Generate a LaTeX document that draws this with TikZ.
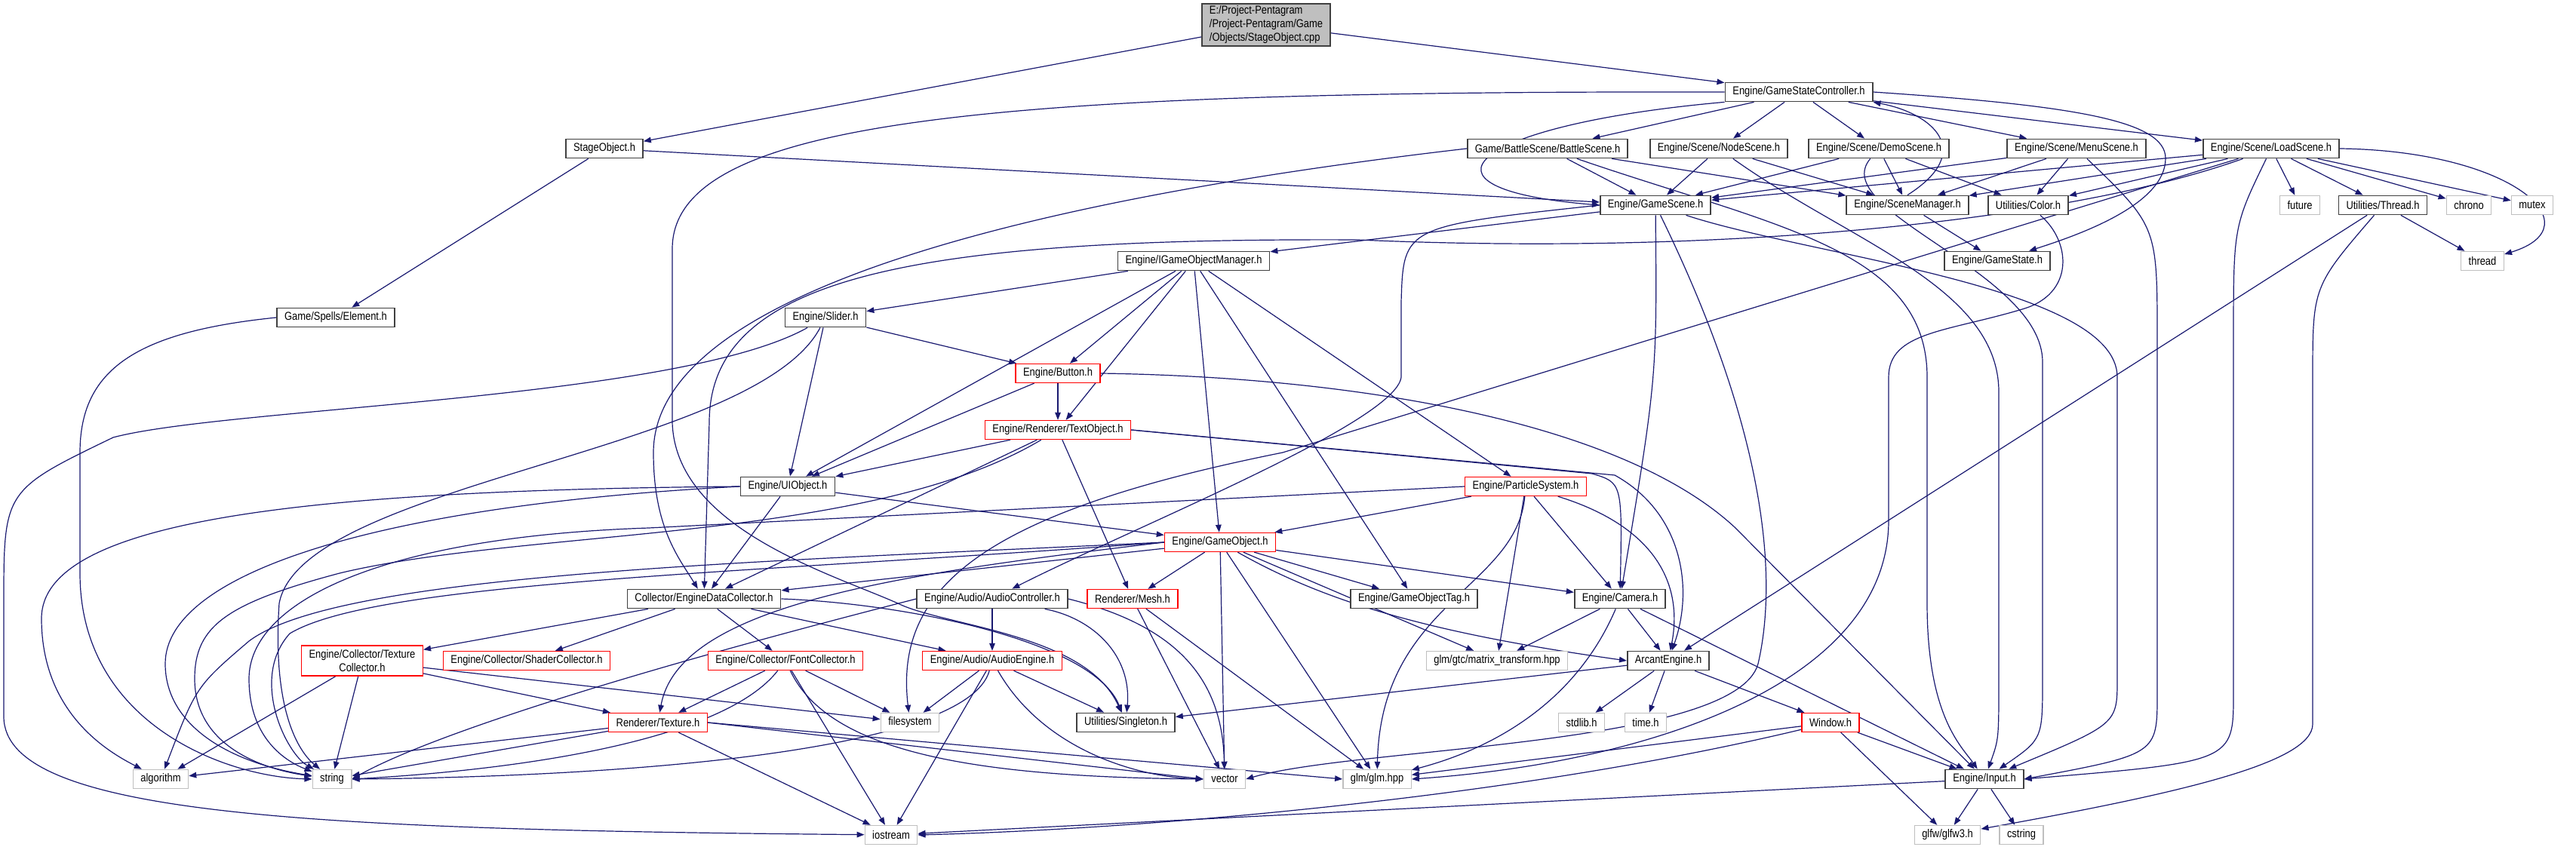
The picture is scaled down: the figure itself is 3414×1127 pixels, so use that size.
\documentclass[tikz,border=0pt]{standalone}
\usepackage{fontspec}
\usepackage{tikz}
\usetikzlibrary{arrows.meta,positioning,backgrounds}
\usepackage{xcolor}
\newfontfamily\doxfont{Liberation Sans}[FakeStretch=0.85]
\definecolor{edgeblue}{HTML}{191970}
\definecolor{hdrgray}{HTML}{404040}
\definecolor{sysgray}{HTML}{BFBFBF}

\begin{document}
\begin{tikzpicture}[
    x=0.5pt, y=-0.5pt,
    >={Triangle[length=5pt,width=3.8pt]},
    hdr/.style={rectangle, draw=hdrgray, line width=0.9pt, fill=white,
                minimum height=12.5pt, inner xsep=5pt, inner ysep=0pt,
                font=\doxfont\fontsize{7.6}{9}\selectfont},
    redhdr/.style={hdr, draw=red, line width=0.7pt},
    syshdr/.style={hdr, draw=sysgray, line width=0.7pt},
    rootbox/.style={hdr, fill=sysgray, align=left, minimum height=28pt},
    arr/.style={->, draw=edgeblue, line width=0.6pt}
  ]
  \useasboundingbox (0,0) rectangle (3414,1127);

  \node[rootbox] (root) at (1678,33)
    {E:/Project-Pentagram\\/Project-Pentagram/Game\\/Objects/StageObject.cpp};
  \node[hdr] (stage) at (801,197) {StageObject.h};
  \node[hdr] (elem) at (445,421) {Game/Spells/Element.h};
  \node[hdr] (gsc) at (2384,122) {Engine/GameStateController.h};
  \node[hdr] (battle) at (2051,197) {Game/BattleScene/BattleScene.h};
  \node[hdr] (nodesc) at (2278,197) {Engine/Scene/NodeScene.h};
  \node[hdr] (demosc) at (2490,197) {Engine/Scene/DemoScene.h};
  \node[hdr] (menusc) at (2752,197) {Engine/Scene/MenuScene.h};
  \node[hdr] (loadsc) at (3010,197) {Engine/Scene/LoadScene.h};
  \node[hdr] (gamesc) at (2194,272) {Engine/GameScene.h};
  \node[hdr] (scmgr) at (2528,272) {Engine/SceneManager.h};
  \node[hdr] (color) at (2688,272) {Utilities/Color.h};
  \node[syshdr] (future) at (3048,272) {future};
  \node[hdr] (threadh) at (3158,272) {Utilities/Thread.h};
  \node[syshdr] (chrono) at (3272,272) {chrono};
  \node[syshdr] (mutex) at (3356,272) {mutex};
  \node[hdr] (gstate) at (2647,346) {Engine/GameState.h};
  \node[syshdr] (thread) at (3290,346) {thread};
  \node[hdr] (igom) at (1582,346) {Engine/IGameObjectManager.h};
  \node[hdr] (slider) at (1094,421) {Engine/Slider.h};
  \node[redhdr] (button) at (1402,495) {Engine/Button.h};
  \node[redhdr] (textobj) at (1402,570) {Engine/Renderer/TextObject.h};
  \node[hdr] (uiobj) at (1044,645) {Engine/UIObject.h};
  \node[redhdr] (psys) at (2022,645) {Engine/ParticleSystem.h};
  \node[redhdr] (gobj) at (1617,719) {Engine/GameObject.h};
  \node[hdr] (edc) at (933,794) {Collector/EngineDataCollector.h};
  \node[hdr] (actl) at (1315,794) {Engine/Audio/AudioController.h};
  \node[redhdr] (mesh) at (1501,794) {Renderer/Mesh.h};
  \node[hdr] (gotag) at (1874,794) {Engine/GameObjectTag.h};
  \node[hdr] (camera) at (2147,794) {Engine/Camera.h};
  \node[redhdr, align=center, minimum height=20pt] (texcoll) at (480,876)
    {Engine/Collector/Texture\\Collector.h};
  \node[redhdr] (shadcoll) at (698,876) {Engine/Collector/ShaderCollector.h};
  \node[redhdr] (fontcoll) at (1041,876) {Engine/Collector/FontCollector.h};
  \node[redhdr] (aeng) at (1315,876) {Engine/Audio/AudioEngine.h};
  \node[syshdr] (mtx) at (1984,876) {glm/gtc/matrix\_transform.hpp};
  \node[hdr] (arcant) at (2211,876) {ArcantEngine.h};
  \node[redhdr] (texture) at (872,958) {Renderer/Texture.h};
  \node[syshdr] (fsys) at (1206,958) {filesystem};
  \node[hdr] (single) at (1492,958) {Utilities/Singleton.h};
  \node[syshdr] (stdlib) at (2096,958) {stdlib.h};
  \node[syshdr] (timeh) at (2181,958) {time.h};
  \node[redhdr] (window) at (2426,958) {Window.h};
  \node[syshdr] (algo) at (213,1033) {algorithm};
  \node[syshdr] (string) at (440,1033) {string};
  \node[syshdr] (vector) at (1623,1033) {vector};
  \node[syshdr] (glm) at (1825,1033) {glm/glm.hpp};
  \node[hdr] (input) at (2630,1033) {Engine/Input.h};
  \node[syshdr] (iostream) at (1181,1107) {iostream};
  \node[syshdr] (glfw) at (2581,1107) {glfw/glfw3.h};
  \node[syshdr] (cstring) at (2679,1107) {cstring};

  \begin{scope}[on background layer]
  \draw[arr] (root) -- (stage);
  \draw[arr] (root) -- (gsc);
  \draw[arr] (stage) -- (elem);
  \draw[arr] (stage) -- (gamesc);
  \draw[arr] (elem.west) .. controls (180,440) and (106,490) .. (106,600)
    -- (106,760) .. controls (106,960) and (300,1030) .. (string.west);

  \draw[arr] (gsc.south west) .. controls (1950,165) and (1850,250) .. (gamesc.west);
  \draw[arr] (gsc.west) .. controls (1300,120) and (891,160) .. (891,330)
    -- (891,560) .. controls (895,700) and (1100,760) .. (1190,800)
    .. controls (1250,830) and (1440,840) .. (single);
  \draw[arr] (gsc) -- (battle);
  \draw[arr] (gsc) -- (nodesc);
  \draw[arr] (gsc) -- (demosc);
  \draw[arr] (gsc) -- (menusc);
  \draw[arr] (gsc) -- (loadsc);
  \draw[arr] (gsc.east) .. controls (2750,140) and (2870,160) .. (2870,210)
    .. controls (2870,270) and (2760,310) .. (gstate);
  \draw[arr] (scmgr.north) .. controls (2620,200) and (2560,150) .. (gsc.south east);

  \draw[arr] (battle) -- (gamesc);
  \draw[arr] (battle) -- (scmgr);
  \draw[arr] (battle.west) .. controls (1400,260) and (866,380) .. (866,600)
    .. controls (866,700) and (900,740) .. (edc);
  \draw[arr] (battle) .. controls (2350,300) and (2554,330) .. (2554,500)
    -- (2554,800) .. controls (2554,950) and (2600,990) .. (input);
  \draw[arr] (nodesc) -- (gamesc);
  \draw[arr] (nodesc) -- (scmgr);
  \draw[arr] (nodesc) .. controls (2450,320) and (2649,380) .. (2649,520)
    -- (2649,900) .. controls (2649,980) .. (input);
  \draw[arr] (demosc) -- (gamesc);
  \draw[arr] (demosc) -- (scmgr);
  \draw[arr] (demosc) -- (color);
  \draw[arr] (demosc) .. controls (2420,280) and (2707,360) .. (2707,480)
    -- (2707,900) .. controls (2707,980) .. (input);
  \draw[arr] (menusc) -- (gamesc);
  \draw[arr] (menusc) -- (scmgr);
  \draw[arr] (menusc) -- (color);
  \draw[arr] (menusc) .. controls (2859,300) .. (2859,450)
    -- (2859,920) .. controls (2859,1000) .. (input.east);
  \draw[arr] (loadsc) -- (gamesc);
  \draw[arr] (loadsc) -- (scmgr);
  \draw[arr] (loadsc) -- (color);
  \draw[arr] (loadsc) -- (future);
  \draw[arr] (loadsc) -- (threadh);
  \draw[arr] (loadsc) -- (chrono);
  \draw[arr] (loadsc) -- (mutex);
  \draw[arr] (loadsc.east) .. controls (3330,200) and (3440,300) .. (thread);
  \draw[arr] (loadsc) .. controls (2960,300) .. (2960,450)
    -- (2960,920) .. controls (2960,1010) .. (input.east);
  \draw[arr] (loadsc) .. controls (2750,290) and (2300,340) .. (1800,318)
    .. controls (1200,315) and (940,370) .. (940,560) -- (edc);
  \draw[arr] (loadsc) -- (1700,600) .. controls (1300,680) and (1185,780) .. (fsys);

  \draw[arr] (scmgr) -- (gstate);
  \draw[arr] (threadh) -- (thread);
  \draw[arr] (threadh) -- (arcant);
  \draw[arr] (threadh) .. controls (3065,380) .. (3065,500)
    -- (3065,960) .. controls (3065,1010) and (2900,1050) .. (glfw);
  \draw[arr] (color) .. controls (2745,320) and (2750,390) .. (2680,410)
    .. controls (2580,440) and (2503,440) .. (2503,500)
    -- (2503,690) .. controls (2503,900) and (2200,1010) .. (glm.east);

  \draw[arr] (gamesc) -- (igom);
  \draw[arr] (gamesc.west) .. controls (1860,300) .. (1857,400)
    -- (1857,500) .. controls (1850,560) and (1500,700) .. (actl);
  \draw[arr] (gamesc) .. controls (2196,500) .. (camera);
  \draw[arr] (gamesc) .. controls (2400,340) and (2806,380) .. (2806,500)
    -- (2806,900) .. controls (2806,960) .. (input);
  \draw[arr] (gamesc) .. controls (2330,550) and (2360,750) .. (2330,880)
    .. controls (2300,990) and (1800,990) .. (vector.east);

  \draw[arr] (igom) -- (slider);
  \draw[arr] (igom) -- (button);
  \draw[arr] (igom) -- (textobj);
  \draw[arr] (igom) -- (uiobj);
  \draw[arr] (igom) -- (gobj);
  \draw[arr] (igom) -- (gotag);
  \draw[arr] (igom) -- (psys);

  \draw[arr] (slider) -- (button);
  \draw[arr] (slider) -- (uiobj);
  \draw[arr] (slider) .. controls (900,530) and (300,540) .. (150,580)
    .. controls (5,650) .. (5,800) -- (5,950)
    .. controls (5,1080) and (400,1100) .. (iostream);
  \draw[arr] (slider) .. controls (1000,600) and (400,640) .. (370,800)
    .. controls (360,950) and (400,1000) .. (string);

  \draw[arr] (button) -- (textobj);
  \draw[arr] (button) -- (uiobj);
  \draw[arr] (button.east) .. controls (1800,500) and (2150,560) .. (2300,700)
    -- (input);

  \draw[arr] (textobj) -- (uiobj);
  \draw[arr] (textobj) -- (edc);
  \draw[arr] (textobj) -- (mesh);
  \draw[arr] (textobj.east) -- (2110,628) .. controls (2150,640) .. (camera);
  \draw[arr] (textobj.east) -- (2140,630) .. controls (2230,680) and (2245,780) .. (arcant);
  \draw[arr] (textobj) .. controls (1150,720) and (700,700) .. (450,760)
    .. controls (300,800) and (258,830) .. (258,900)
    .. controls (258,990) and (350,1020) .. (string);

  \draw[arr] (uiobj) -- (gobj);
  \draw[arr] (uiobj) -- (edc);
  \draw[arr] (uiobj.west) .. controls (400,650) and (55,690) .. (55,820)
    .. controls (55,950) and (150,1000) .. (algo);
  \draw[arr] (uiobj.west) .. controls (500,670) and (219,760) .. (219,880)
    .. controls (219,960) and (300,1010) .. (string);

  \draw[arr] (psys) -- (gobj);
  \draw[arr] (psys) -- (mtx);
  \draw[arr] (psys) -- (camera);
  \draw[arr] (psys) .. controls (2200,700) and (2230,780) .. (arcant);
  \draw[arr] (psys) .. controls (2010,780) and (1830,800) .. (glm);
  \draw[arr] (psys.west) -- (860,700) .. controls (500,712) and (330,800) .. (330,900)
    .. controls (330,980) and (380,1010) .. (string);

  \draw[arr] (gobj) -- (edc);
  \draw[arr] (gobj) -- (mesh);
  \draw[arr] (gobj) -- (vector);
  \draw[arr] (gobj) -- (glm);
  \draw[arr] (gobj) -- (gotag);
  \draw[arr] (gobj) -- (camera);
  \draw[arr] (gobj) -- (mtx);
  \draw[arr] (gobj) .. controls (1760,800) and (1900,840) .. (arcant.west);
  \draw[arr] (gobj.west) .. controls (1200,760) and (900,800) .. (texture);
  \draw[arr] (gobj.west) .. controls (1000,745) and (450,760) .. (330,850)
    .. controls (260,910) .. (algo);
  \draw[arr] (gobj.west) .. controls (1000,760) and (500,770) .. (384,840)
    .. controls (330,900) and (380,1000) .. (string);

  \draw[arr] (edc) -- (texcoll);
  \draw[arr] (edc) -- (shadcoll);
  \draw[arr] (edc) -- (fontcoll);
  \draw[arr] (edc) -- (aeng);
  \draw[arr] (edc.east) .. controls (1200,800) and (1450,850) .. (single);

  \draw[arr] (actl) -- (aeng);
  \draw[arr] (actl) .. controls (1450,820) and (1500,870) .. (single);
  \draw[arr] (actl.east) .. controls (1560,830) and (1620,900) .. (vector);
  \draw[arr] (actl.west) .. controls (800,900) and (560,980) .. (string.east);

  \draw[arr] (mesh) -- (vector);
  \draw[arr] (mesh) -- (glm);

  \draw[arr] (camera) -- (mtx);
  \draw[arr] (camera) -- (arcant);
  \draw[arr] (camera) .. controls (2080,950) and (1950,1000) .. (glm);
  \draw[arr] (camera) -- (input);

  \draw[arr] (texcoll) -- (algo);
  \draw[arr] (texcoll) -- (string);
  \draw[arr] (texcoll) -- (texture);
  \draw[arr] (texcoll) -- (fsys);

  \draw[arr] (fontcoll) -- (texture);
  \draw[arr] (fontcoll) .. controls (960,980) and (700,1020) .. (string.east);
  \draw[arr] (fontcoll) -- (fsys);
  \draw[arr] (fontcoll) -- (iostream);
  \draw[arr] (fontcoll) .. controls (1100,1000) and (1300,1030) .. (vector.west);

  \draw[arr] (aeng) -- (fsys);
  \draw[arr] (aeng) -- (single);
  \draw[arr] (aeng) -- (iostream);
  \draw[arr] (aeng) .. controls (1280,1000) and (800,1030) .. (string.east);
  \draw[arr] (aeng) .. controls (1380,990) and (1500,1030) .. (vector.west);

  \draw[arr] (arcant) -- (single);
  \draw[arr] (arcant) -- (stdlib);
  \draw[arr] (arcant) -- (timeh);
  \draw[arr] (arcant) -- (window);

  \draw[arr] (texture) -- (algo);
  \draw[arr] (texture) -- (string);
  \draw[arr] (texture) -- (iostream);
  \draw[arr] (texture.east) -- (glm.west);
  \draw[arr] (texture.east) -- (vector.west);

  \draw[arr] (window) -- (input);
  \draw[arr] (window) -- (glfw);
  \draw[arr] (window) -- (glm);
  \draw[arr] (window) .. controls (2000,1060) and (1500,1100) .. (iostream.east);

  \draw[arr] (input) -- (iostream);
  \draw[arr] (input) -- (glfw);
  \draw[arr] (input) -- (cstring);
  \end{scope}
\end{tikzpicture}
\end{document}
